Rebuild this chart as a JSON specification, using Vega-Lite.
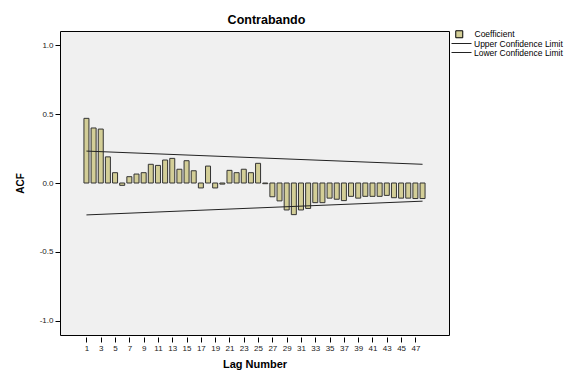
{
  "$schema": "https://vega.github.io/schema/vega-lite/v6.json",
  "autosize": {"type": "none"},
  "width": 389,
  "height": 304,
  "padding": {"left": 60, "top": 31, "right": 135, "bottom": 35},
  "background": "white",
  "config": {
    "font": "Liberation Sans",
    "view": {"fill": "#f0f0f0", "stroke": "#000", "strokeWidth": 1},
    "axis": {"grid": false, "domain": false, "tickColor": "#000", "labelColor": "#222", "labelFont": "Liberation Sans", "labelFontSize": 8, "titleFont": "Liberation Sans", "titleFontWeight": "bold", "titleColor": "#000"}
  },
  "title": {"text": "Contrabando", "font": "Liberation Sans", "fontSize": 12.5, "fontWeight": "bold", "color": "#000", "anchor": "middle", "dx": 12, "offset": 4},
  "datasets": {
    "acf": [
      {"lag": 1, "acf": 0.47, "type": "Coefficient"},
      {"lag": 2, "acf": 0.40, "type": "Coefficient"},
      {"lag": 3, "acf": 0.392, "type": "Coefficient"},
      {"lag": 4, "acf": 0.19, "type": "Coefficient"},
      {"lag": 5, "acf": 0.075, "type": "Coefficient"},
      {"lag": 6, "acf": -0.017, "type": "Coefficient"},
      {"lag": 7, "acf": 0.046, "type": "Coefficient"},
      {"lag": 8, "acf": 0.065, "type": "Coefficient"},
      {"lag": 9, "acf": 0.075, "type": "Coefficient"},
      {"lag": 10, "acf": 0.136, "type": "Coefficient"},
      {"lag": 11, "acf": 0.128, "type": "Coefficient"},
      {"lag": 12, "acf": 0.167, "type": "Coefficient"},
      {"lag": 13, "acf": 0.179, "type": "Coefficient"},
      {"lag": 14, "acf": 0.10, "type": "Coefficient"},
      {"lag": 15, "acf": 0.162, "type": "Coefficient"},
      {"lag": 16, "acf": 0.089, "type": "Coefficient"},
      {"lag": 17, "acf": -0.036, "type": "Coefficient"},
      {"lag": 18, "acf": 0.123, "type": "Coefficient"},
      {"lag": 19, "acf": -0.036, "type": "Coefficient"},
      {"lag": 20, "acf": -0.008, "type": "Coefficient"},
      {"lag": 21, "acf": 0.092, "type": "Coefficient"},
      {"lag": 22, "acf": 0.075, "type": "Coefficient"},
      {"lag": 23, "acf": 0.10, "type": "Coefficient"},
      {"lag": 24, "acf": 0.075, "type": "Coefficient"},
      {"lag": 25, "acf": 0.143, "type": "Coefficient"},
      {"lag": 26, "acf": -0.005, "type": "Coefficient"},
      {"lag": 27, "acf": -0.10, "type": "Coefficient"},
      {"lag": 28, "acf": -0.13, "type": "Coefficient"},
      {"lag": 29, "acf": -0.196, "type": "Coefficient"},
      {"lag": 30, "acf": -0.23, "type": "Coefficient"},
      {"lag": 31, "acf": -0.196, "type": "Coefficient"},
      {"lag": 32, "acf": -0.185, "type": "Coefficient"},
      {"lag": 33, "acf": -0.143, "type": "Coefficient"},
      {"lag": 34, "acf": -0.143, "type": "Coefficient"},
      {"lag": 35, "acf": -0.11, "type": "Coefficient"},
      {"lag": 36, "acf": -0.118, "type": "Coefficient"},
      {"lag": 37, "acf": -0.128, "type": "Coefficient"},
      {"lag": 38, "acf": -0.097, "type": "Coefficient"},
      {"lag": 39, "acf": -0.11, "type": "Coefficient"},
      {"lag": 40, "acf": -0.097, "type": "Coefficient"},
      {"lag": 41, "acf": -0.097, "type": "Coefficient"},
      {"lag": 42, "acf": -0.097, "type": "Coefficient"},
      {"lag": 43, "acf": -0.09, "type": "Coefficient"},
      {"lag": 44, "acf": -0.107, "type": "Coefficient"},
      {"lag": 45, "acf": -0.11, "type": "Coefficient"},
      {"lag": 46, "acf": -0.11, "type": "Coefficient"},
      {"lag": 47, "acf": -0.113, "type": "Coefficient"},
      {"lag": 48, "acf": -0.113, "type": "Coefficient"}
    ],
    "limits": [
      {"lag": 1, "limit": 0.232, "series": "Upper Confidence Limit"},
      {"lag": 48, "limit": 0.136, "series": "Upper Confidence Limit"},
      {"lag": 1, "limit": -0.232, "series": "Lower Confidence Limit"},
      {"lag": 48, "limit": -0.132, "series": "Lower Confidence Limit"}
    ]
  },
  "layer": [
    {
      "data": {"name": "acf"},
      "mark": {"type": "bar", "size": 5, "stroke": "#333", "strokeWidth": 1},
      "encoding": {
        "x": {"field": "lag", "type": "quantitative", "scale": {"domain": [-2, 51], "nice": false, "zero": false},
              "axis": {"title": "Lag Number", "values": [1,3,5,7,9,11,13,15,17,19,21,23,25,27,29,31,33,35,37,39,41,43,45,47], "tickCount": 60, "labelOverlap": false, "labelBound": false, "labelFlush": false, "offset": 2, "tickSize": 5, "labelPadding": 2, "titleFontSize": 11, "titlePadding": 6}},
        "y": {"field": "acf", "type": "quantitative", "scale": {"domain": [-1.105, 1.105], "nice": false},
              "axis": {"title": "ACF", "values": [-1, -0.5, 0, 0.5, 1], "format": ".1f", "labelExpr": "replace(datum.label, '\u2212', '-')", "tickSize": 5, "labelPadding": 2, "titleFontSize": 10, "titlePadding": 14}},
        "y2": {"datum": 0},
        "fill": {"field": "type", "type": "nominal", "scale": {"range": ["#d3ce97"]},
                 "legend": {"title": null, "orient": "none", "legendX": 395, "legendY": -1, "symbolType": "square", "symbolSize": 49, "symbolStrokeColor": "#000", "symbolStrokeWidth": 1, "labelOffset": 11, "labelFontSize": 8.5, "labelColor": "#000", "labelFont": "Liberation Sans"}}
      }
    },
    {
      "mark": {"type": "rule", "color": "#000", "strokeWidth": 1},
      "encoding": {"y": {"datum": 0}}
    },
    {
      "data": {"name": "limits"},
      "mark": {"type": "line", "strokeWidth": 1},
      "encoding": {
        "x": {"field": "lag", "type": "quantitative"},
        "y": {"field": "limit", "type": "quantitative"},
        "stroke": {"field": "series", "type": "nominal", "scale": {"domain": ["Upper Confidence Limit", "Lower Confidence Limit"], "range": ["#222", "#222"]},
                   "legend": {"title": null, "orient": "none", "legendX": 403, "legendY": 8, "symbolType": "M-4,0H1", "symbolSize": 64, "symbolStrokeWidth": 1, "labelOffset": 2, "rowPadding": 0, "labelFontSize": 8.5, "labelColor": "#000", "labelFont": "Liberation Sans"}}
      }
    }
  ]
}
